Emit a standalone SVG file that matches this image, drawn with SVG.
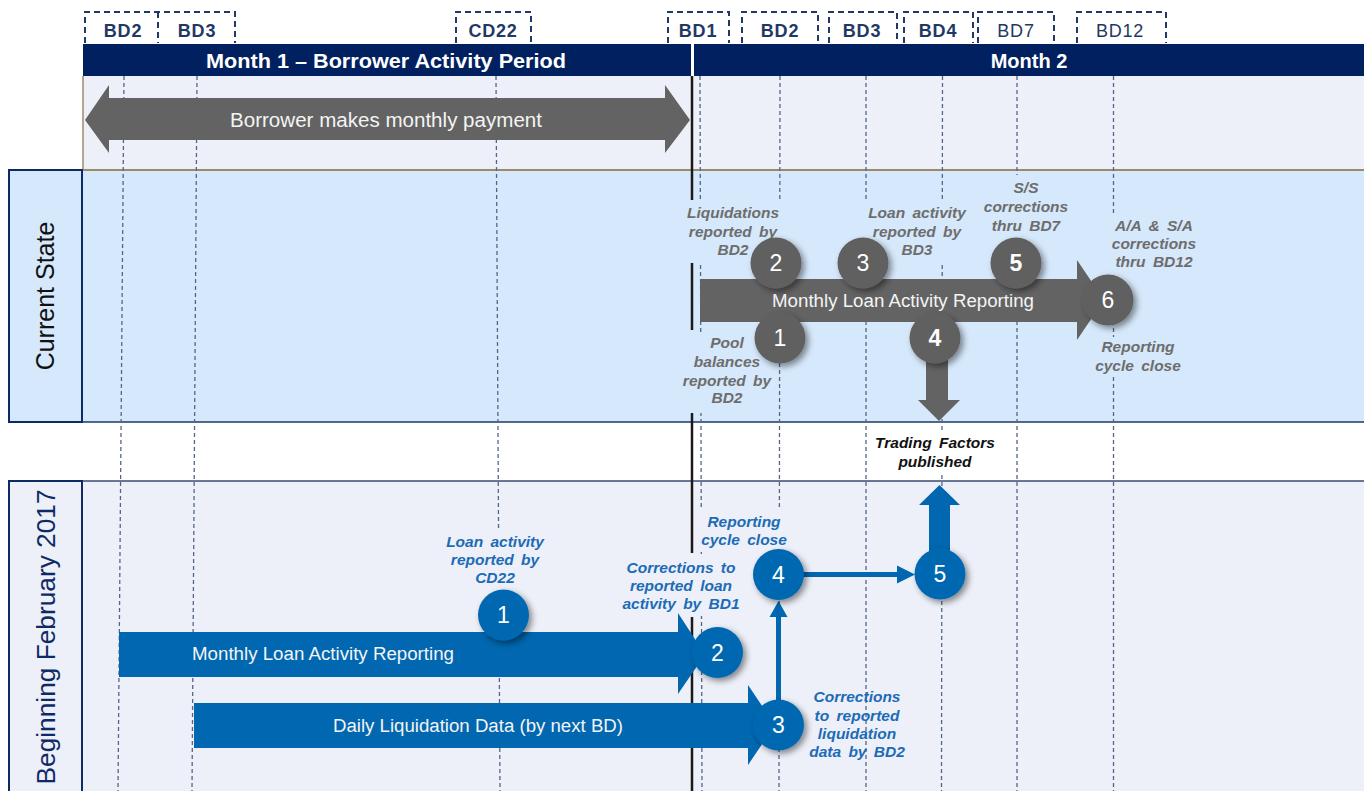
<svg xmlns="http://www.w3.org/2000/svg" width="1364" height="791" viewBox="0 0 1364 791">
  <style>
    .hdr { font-family: "Liberation Sans", Arial, sans-serif; font-weight: bold; fill: #ffffff; font-size: 20px; text-anchor: middle; }
    .bd { font-family: "Liberation Sans", Arial, sans-serif; font-weight: bold; fill: #1f3864; font-size: 18px; letter-spacing: 0.8px; text-anchor: middle; }
    .bdr { font-weight: normal; }
    .tick { fill: none; stroke: #1f3864; stroke-width: 2; stroke-dasharray: 6 4; }
    .grid { stroke: #55658a; stroke-width: 1.3; stroke-dasharray: 4 3; fill: none; }
    .today { stroke: #1a1a1a; stroke-width: 2.5; fill: none; }
    .lane { font-family: "Liberation Sans", Arial, sans-serif; font-size: 25px; text-anchor: middle; }
    .bar-text { font-family: "Liberation Sans", Arial, sans-serif; font-size: 18px; fill: #f4f4f4; text-anchor: middle; }
    .num { font-family: "Liberation Sans", Arial, sans-serif; font-size: 23px; fill: #ffffff; text-anchor: middle; }
    .numb { font-weight: bold; }
    .note { font-family: "Liberation Sans", Arial, sans-serif; font-size: 15.5px; font-weight: bold; font-style: italic; text-anchor: middle; word-spacing: 3px; }
    .note-gray { fill: #6d6d6d; }
    .note-blue { fill: #1c6bb6; }
    .note-black { fill: #111111; }
    .gray { fill: #636363; }
    .blue { fill: #0067b0; }
    .circle-gray { fill: #616161; filter: url(#shadow); }
    .circle-blue { fill: #0067b0; filter: url(#shadow); }
  </style>
  <defs>
    <filter id="shadow" x="-40%" y="-40%" width="180%" height="180%">
      <feDropShadow dx="3" dy="3" stdDeviation="3" flood-color="#000000" flood-opacity="0.45"/>
    </filter>
  </defs>

  <!-- page background -->
  <rect x="0" y="0" width="1364" height="791" fill="#ffffff"/>

  <!-- swim lanes -->
  <g id="lanes">
    <rect x="83" y="76" width="1281" height="94" fill="#edf0f8"/>
    <rect x="82" y="170" width="1282" height="252" fill="#d6e8fb"/>
    <rect x="82" y="481" width="1282" height="320" fill="#edf0f8"/>
    <line x1="83" y1="76" x2="83" y2="170" stroke="#9c8b68" stroke-width="1.5"/>
    <line x1="83" y1="170" x2="1364" y2="170" stroke="#9c8b68" stroke-width="2"/>
    <line x1="82" y1="422" x2="1364" y2="422" stroke="#1f3864" stroke-width="1.5"/>
    <line x1="82" y1="481" x2="1364" y2="481" stroke="#3a4a70" stroke-width="1.5"/>
  </g>

  <!-- lane titles -->
  <g id="lane-current">
    <rect x="9" y="170" width="73" height="252" fill="#d6e8fb" stroke="#0d2a66" stroke-width="2"/>
    <text class="lane" fill="#111111" transform="translate(54,296) rotate(-90)">Current State</text>
  </g>
  <g id="lane-feb2017">
    <rect x="9" y="481" width="73" height="330" fill="#edf0f8" stroke="#0d2a66" stroke-width="2"/>
    <text class="lane" fill="#0d2a66" transform="translate(55,637) rotate(-90)" textLength="295" lengthAdjust="spacingAndGlyphs">Beginning  February 2017</text>
  </g>

  <!-- business-day markers -->
  <g id="day-markers">
    <path class="tick" d="M85,43 V12 H235 V43 M158,12 V43"/>
    <path class="tick" d="M456,43 V12 H531 V43"/>
    <path class="tick" d="M668,43 V12 H729 V43"/>
    <path class="tick" d="M742,43 V12 H818 V43"/>
    <path class="tick" d="M829,43 V12 H897 V43"/>
    <path class="tick" d="M904,43 V12 H973 V43"/>
    <path class="tick" d="M978,43 V12 H1054 V43"/>
    <path class="tick" d="M1077,43 V12 H1166 V43"/>
    <text class="bd" x="123" y="37">BD2</text>
    <text class="bd" x="197" y="37">BD3</text>
    <text class="bd" x="493" y="37">CD22</text>
    <text class="bd" x="698" y="37">BD1</text>
    <text class="bd" x="780" y="37">BD2</text>
    <text class="bd" x="862" y="37">BD3</text>
    <text class="bd" x="938" y="37">BD4</text>
    <text class="bd bdr" x="1016" y="37">BD7</text>
    <text class="bd bdr" x="1120" y="37">BD12</text>
  </g>

  <!-- month headers -->
  <g id="month-1">
    <rect x="83" y="44" width="608" height="32" fill="#002060"/>
    <text class="hdr" x="386" y="68" textLength="360" lengthAdjust="spacingAndGlyphs">Month 1 – Borrower Activity  Period</text>
  </g>
  <g id="month-2">
    <rect x="694" y="44" width="670" height="32" fill="#002060"/>
    <text class="hdr" x="1029" y="68">Month 2</text>
  </g>

  <!-- day grid lines -->
  <g id="grid">
    <line class="grid" x1="124" y1="76" x2="118" y2="791"/>
    <line class="grid" x1="197" y1="76" x2="192" y2="791" stroke="#2d3f6e"/>
    <line class="grid" x1="496" y1="76" x2="500" y2="791"/>
    <line class="grid" x1="700" y1="76" x2="702" y2="791"/>
    <line class="grid" x1="780" y1="76" x2="779" y2="791"/>
    <line class="grid" x1="866" y1="76" x2="866" y2="791"/>
    <line class="grid" x1="942.5" y1="76" x2="941.5" y2="791"/>
    <line class="grid" x1="1017" y1="76" x2="1017" y2="791"/>
    <line class="grid" x1="1113.5" y1="76" x2="1113.5" y2="791"/>
  </g>

  <!-- month boundary -->
  <g id="month-boundary">
    <line class="today" x1="692" y1="76" x2="692" y2="200"/>
    <line class="today" x1="692" y1="263" x2="692" y2="330"/>
    <line class="today" x1="692" y1="413" x2="692" y2="553"/>
    <line class="today" x1="692" y1="617" x2="692" y2="791"/>
  </g>

  <!-- borrower payment window -->
  <g id="borrower-payment">
    <polygon class="gray" points="85,120 109,85 109,98 665,98 665,85 690,120 665,153 665,140 109,140 109,153"/>
    <text class="bar-text" style="font-size:20px" x="386" y="127" textLength="312" lengthAdjust="spacingAndGlyphs">Borrower makes monthly payment</text>
  </g>

  <!-- current state notes -->
  <g id="cs-note-liquidations">
    <rect x="684" y="200" width="99" height="63" fill="#d6e8fb"/>
    <text class="note note-gray" x="733" y="218">Liquidations</text>
    <text class="note note-gray" x="733" y="237">reported by</text>
    <text class="note note-gray" x="733" y="255">BD2</text>
  </g>
  <g id="cs-note-loan-activity">
    <rect x="862" y="200" width="110" height="64" fill="#d6e8fb"/>
    <text class="note note-gray" x="917" y="218">Loan activity</text>
    <text class="note note-gray" x="917" y="237">reported by</text>
    <text class="note note-gray" x="917" y="255">BD3</text>
  </g>
  <g id="cs-note-ss">
    <rect x="980" y="175" width="92" height="63" fill="#d6e8fb"/>
    <text class="note note-gray" x="1026" y="193">S/S</text>
    <text class="note note-gray" x="1026" y="212">corrections</text>
    <text class="note note-gray" x="1026" y="231">thru BD7</text>
  </g>
  <g id="cs-note-aa-sa">
    <rect x="1106" y="213" width="96" height="62" fill="#d6e8fb"/>
    <text class="note note-gray" x="1154" y="231">A/A &amp; S/A</text>
    <text class="note note-gray" x="1154" y="249">corrections</text>
    <text class="note note-gray" x="1154" y="267">thru BD12</text>
  </g>
  <g id="cs-note-pool">
    <rect x="680" y="333" width="95" height="80" fill="#d6e8fb"/>
    <text class="note note-gray" x="727" y="348">Pool</text>
    <text class="note note-gray" x="727" y="367">balances</text>
    <text class="note note-gray" x="727" y="386">reported by</text>
    <text class="note note-gray" x="727" y="403">BD2</text>
  </g>
  <g id="cs-note-close">
    <rect x="1092" y="337" width="92" height="39" fill="#d6e8fb"/>
    <text class="note note-gray" x="1138" y="352">Reporting</text>
    <text class="note note-gray" x="1138" y="371">cycle close</text>
  </g>

  <!-- current state reporting flow -->
  <g id="cs-reporting">
    <polygon class="gray" points="700,279 1077,279 1077,260 1104,300 1077,340 1077,322 700,322"/>
    <text class="bar-text" x="903" y="307" textLength="262" lengthAdjust="spacingAndGlyphs">Monthly  Loan Activity Reporting</text>
  </g>
  <g id="cs-publish-arrow">
    <polygon class="gray" points="926,350 948,350 948,400 960,400 939,421 918,400 926,400"/>
  </g>
  <g id="cs-step-2"><circle class="circle-gray" cx="776" cy="263" r="25.5"/><text class="num" x="776" y="271">2</text></g>
  <g id="cs-step-3"><circle class="circle-gray" cx="863" cy="263" r="25.5"/><text class="num" x="863" y="271">3</text></g>
  <g id="cs-step-5"><circle class="circle-gray" cx="1016" cy="263" r="25.5"/><text class="num numb" x="1016" y="271">5</text></g>
  <g id="cs-step-1"><circle class="circle-gray" cx="780" cy="338" r="25.5"/><text class="num" x="780" y="346">1</text></g>
  <g id="cs-step-4"><circle class="circle-gray" cx="935" cy="338" r="25.5"/><text class="num numb" x="935" y="346">4</text></g>
  <g id="cs-step-6"><circle class="circle-gray" cx="1108" cy="300" r="25.5"/><text class="num" x="1108" y="308">6</text></g>

  <!-- trading factors -->
  <g id="trading-factors">
    <rect x="872" y="433" width="126" height="39" fill="#ffffff"/>
    <text class="note note-black" x="935" y="448">Trading Factors</text>
    <text class="note note-black" x="935" y="467">published</text>
  </g>

  <!-- 2017 notes -->
  <g id="new-note-cd22">
    <rect x="443" y="528" width="104" height="62" fill="#edf0f8"/>
    <text class="note note-blue" x="495" y="547">Loan activity</text>
    <text class="note note-blue" x="495" y="565">reported by</text>
    <text class="note note-blue" x="495" y="583">CD22</text>
  </g>
  <g id="new-note-close">
    <rect x="697" y="508" width="93" height="42" fill="#edf0f8"/>
    <text class="note note-blue" x="744" y="527">Reporting</text>
    <text class="note note-blue" x="744" y="545">cycle close</text>
  </g>
  <g id="new-note-bd1">
    <rect x="622" y="554" width="118" height="62" fill="#edf0f8"/>
    <text class="note note-blue" x="681" y="573">Corrections to</text>
    <text class="note note-blue" x="681" y="591">reported loan</text>
    <text class="note note-blue" x="681" y="609">activity by BD1</text>
  </g>
  <g id="new-note-bd2">
    <text class="note note-blue" x="857" y="702">Corrections</text>
    <text class="note note-blue" x="857" y="721">to reported</text>
    <text class="note note-blue" x="857" y="739">liquidation</text>
    <text class="note note-blue" x="857" y="757">data by BD2</text>
  </g>

  <!-- 2017 reporting flows -->
  <g id="new-monthly">
    <polygon class="blue" points="119,632 678,632 678,613 705,654.5 678,694 678,677 119,677"/>
    <text class="bar-text" x="323" y="660" textLength="262" lengthAdjust="spacingAndGlyphs">Monthly  Loan Activity Reporting</text>
  </g>
  <g id="new-daily">
    <polygon class="blue" points="194,703 748,703 748,685 775,725 748,765 748,748 194,748"/>
    <text class="bar-text" x="478" y="732" textLength="290" lengthAdjust="spacingAndGlyphs">Daily Liquidation Data (by next BD)</text>
  </g>

  <!-- connectors -->
  <g id="connectors">
    <line x1="778.5" y1="700" x2="778.5" y2="615" stroke="#0067b0" stroke-width="5"/>
    <polygon class="blue" points="769.5,617 787.5,617 778.5,601"/>
    <line x1="803" y1="574.5" x2="899" y2="574.5" stroke="#0067b0" stroke-width="5"/>
    <polygon class="blue" points="897,565.5 897,583.5 915,574.5"/>
    <polygon class="blue" points="929,552 950,552 950,505 960,505 939.5,485 919,505 929,505"/>
  </g>

  <g id="new-step-1"><circle class="circle-blue" cx="503.5" cy="615" r="25.5"/><text class="num" x="503.5" y="623">1</text></g>
  <g id="new-step-2"><circle class="circle-blue" cx="717.5" cy="652.5" r="25.5"/><text class="num" x="717.5" y="660.5">2</text></g>
  <g id="new-step-3"><circle class="circle-blue" cx="778.5" cy="725" r="25.5"/><text class="num" x="778.5" y="733">3</text></g>
  <g id="new-step-4"><circle class="circle-blue" cx="778.5" cy="574.5" r="25.5"/><text class="num" x="778.5" y="582.5">4</text></g>
  <g id="new-step-5"><circle class="circle-blue" cx="940" cy="574" r="25.5"/><text class="num" x="940" y="582">5</text></g>
</svg>
